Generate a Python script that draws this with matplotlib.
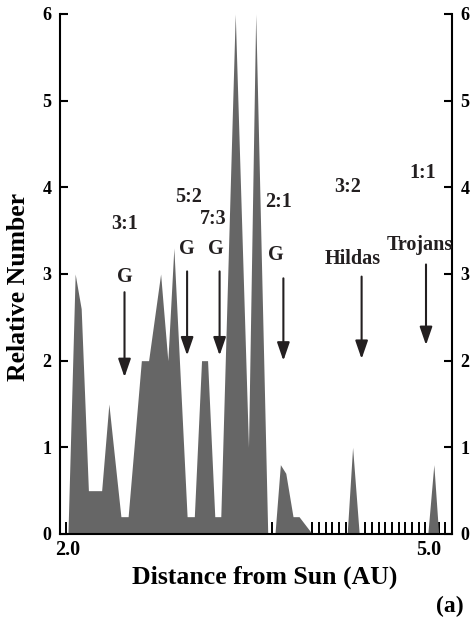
import numpy as np
import matplotlib
matplotlib.use("Agg")
import matplotlib.pyplot as plt

plt.rcParams['font.family'] = ['Liberation Serif', 'DejaVu Serif']
plt.rcParams['font.weight'] = 'bold'
plt.rcParams['axes.labelweight'] = 'bold'

# asteroid distribution profile (AU, relative number)
dist_au = [2.00, 2.06, 2.11, 2.17, 2.28, 2.34, 2.44, 2.50, 2.61, 2.67,
           2.77, 2.83, 2.88, 2.99, 3.05, 3.11, 3.16, 3.22, 3.27, 3.39,
           3.50, 3.56, 3.66, 3.72, 3.765, 3.81, 3.87, 3.92, 4.03, 4.32,
           4.365, 4.42, 4.99, 5.04, 5.08]
rel_number = [0.0, 3.0, 2.6, 0.5, 0.5, 1.5, 0.2, 0.2, 2.0, 2.0,
              3.0, 2.0, 3.3, 0.2, 0.2, 2.0, 2.0, 0.2, 0.2, 6.0,
              1.0, 6.0, 0.0, 0.0, 0.8, 0.7, 0.2, 0.2, 0.0, 0.0,
              1.0, 0.0, 0.0, 0.8, 0.0]

# resonance arrows: x, arrow top, arrow tip
arrow_x = [2.47, 2.99, 3.26, 3.79, 4.44, 4.975]
arrow_top = [2.79, 3.03, 3.03, 2.95, 2.97, 3.11]
arrow_tip = [1.81, 2.06, 2.06, 2.00, 2.02, 2.18]
gap_labels = ['G', 'G', 'G', 'G', 'Hildas', 'Trojans']
gap_label_x = [2.47, 2.99, 3.23, 3.73, 4.37, 4.92]
gap_label_y = [2.96, 3.29, 3.29, 3.22, 3.17, 3.34]
res_labels = ['3:1', '5:2', '7:3', '2:1', '3:2', '1:1']
res_label_x = [2.47, 3.00, 3.21, 3.75, 4.32, 4.95]
res_label_y = [3.58, 3.89, 3.63, 3.83, 4.00, 4.16]

xmin, xmax = 1.934, 5.191
bin_width = 0.0553

fig = plt.figure(figsize=(4.72, 6.27), dpi=100)
ax = fig.add_axes([60 / 472, 1 - 534 / 627, 392 / 472, 520 / 627])

# little hash marks for empty bins
edges = xmax - bin_width * np.arange(0, 60)
empty = np.interp(edges, dist_au, rel_number) <= 0.01
ax.vlines(edges[empty], 0, 0.14, color='black', lw=1.4, zorder=1)

ax.fill_between(dist_au, rel_number, 0, color='#666666', lw=0, zorder=2)

ink = '#231f20'
for x, top, tip in zip(arrow_x, arrow_top, arrow_tip):
    ax.annotate('', xy=(x, tip), xytext=(x, top),
                arrowprops=dict(arrowstyle='-|>,head_length=1.1,head_width=0.38',
                                color=ink, lw=1.5, shrinkA=0, shrinkB=0))
for s, x, y in zip(gap_labels, gap_label_x, gap_label_y):
    ax.text(x, y, s, ha='center', va='center', fontsize=14.5, color=ink)
for s, x, y in zip(res_labels, res_label_x, res_label_y):
    ax.text(x, y, s, ha='center', va='center', fontsize=14.5, color=ink)

ax.set_xlim(xmin, xmax)
ax.set_ylim(0, 6)
ax.spines['top'].set_visible(False)
for side in ['left', 'right', 'bottom']:
    ax.spines[side].set_linewidth(1.5)

ax.set_yticks(range(7))
ax.tick_params(axis='y', direction='in', length=6, width=1.5, left=True, right=True,
               labelleft=True, labelright=True, labelsize=13, pad=6)
ax.set_xticks([2.0, 5.0])
ax.set_xticklabels(['2.0', '5.0'])
ax.tick_params(axis='x', length=0, labelsize=14.5, pad=4)

ax.set_xlabel('Distance from Sun (AU)', fontsize=18.5)
ax.xaxis.set_label_coords(0.523, -0.083)
ax.xaxis.label.set_va('center')
ax.set_ylabel('Relative Number', fontsize=18.5)
ax.yaxis.set_label_coords(-0.107, 0.475)
ax.yaxis.label.set_va('center')

fig.text(450 / 472, 1 - 606 / 627, '(a)', ha='center', va='center', fontsize=17)

fig.savefig('out.png', dpi=100)
